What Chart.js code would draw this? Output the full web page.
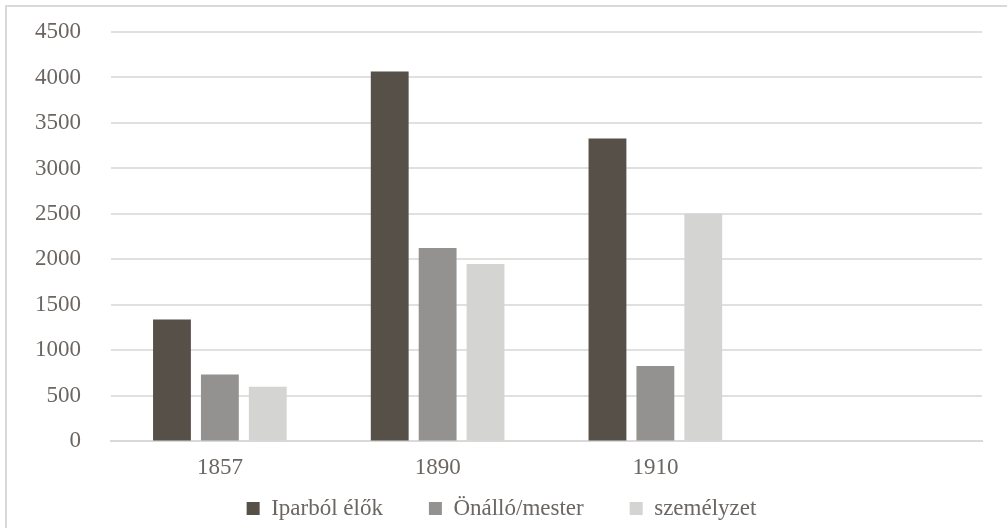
<!DOCTYPE html>
<html>
<head>
<meta charset="utf-8">
<script src="https://cdn.jsdelivr.net/npm/chart.js@4"></script>
<style>
    body { margin: 0; background: #fff; }
    #frame {
        position: absolute; left: 5px; top: 5px; width: 1002px; height: 523px;
        border-top: 2px solid #d9d9d9; border-left: 2px solid #d9d9d9;
        box-sizing: border-box;
    }
    #wrap { position: absolute; left: 0; top: 0; width: 1007px; height: 528px; }
</style>
</head>
<body>
<div id="frame"></div>
<div id="wrap"><canvas id="myChart"></canvas></div>
<script>
// categories (4th slot is empty in the original)
const years = ['1857', '1890', '1910', '']

// series values
const iparbolElok = [1340, 4065, 3330, null]
const onalloMester = [735, 2125, 830, null]
const szemelyzet = [600, 1950, 2505, null]

const seriesNames = ['Iparból élők', 'Önálló/mester', 'személyzet']
const seriesColors = ['#575049', '#939290', '#d4d4d3']

const textColor = '#6b6662'
const fontFamily = "'Liberation Serif', 'DejaVu Serif', serif"
const fontSize = 23

// legend: wide gaps between items but a short box vertically
const legendGap = 46
const legendFit = {
    id: 'legendFit',
    beforeLayout(chart) {
        const lg = chart.legend
        if (!lg || lg._patched) return
        const origFit = lg.fit
        const origDraw = lg.draw
        lg.fit = function () {
            origFit.call(this)
            this.height -= 46
        }
        lg.draw = function () {
            const { top, left, right } = this
            this.top = top - 44
            this.left = left + 8
            this.right = right + 8
            origDraw.call(this)
            Object.assign(this, { top, left, right })
        }
        lg._patched = true
    }
}

const data = {
    labels: years,
    datasets: [iparbolElok, onalloMester, szemelyzet].map((values, i) => ({
        label: seriesNames[i],
        data: values,
        backgroundColor: seriesColors[i],
        categoryPercentage: 0.66,
        barPercentage: 0.79
    }))
}

const config = {
    type: 'bar',
    data: data,
    plugins: [legendFit],
    options: {
        responsive: true,
        maintainAspectRatio: false,
        animation: false,
        layout: {
            padding: { left: 5, right: 25, top: 32, bottom: 0 }
        },
        plugins: {
            tooltip: { enabled: false },
            legend: {
                position: 'bottom',
                labels: {
                    boxWidth: 13,
                    boxHeight: 13,
                    padding: legendGap,
                    color: textColor,
                    font: { family: fontFamily, size: fontSize }
                }
            }
        },
        scales: {
            x: {
                grid: { display: false, drawTicks: false },
                border: { color: '#d9d9d9', width: 2 },
                ticks: {
                    padding: 13,
                    color: textColor,
                    font: { family: fontFamily, size: fontSize }
                }
            },
            y: {
                min: 0,
                max: 4500,
                // keep the wide label gap from padding the plot top/bottom
                afterFit: scale => {
                    scale.paddingTop = 14
                    scale.paddingBottom = 14
                },
                ticks: {
                    stepSize: 500,
                    padding: 30,
                    color: textColor,
                    font: { family: fontFamily, size: fontSize },
                    callback: value => String(value)
                },
                grid: { color: '#e0e0e0', lineWidth: 2, drawTicks: false },
                border: { display: false }
            }
        }
    }
}

new Chart(document.getElementById('myChart'), config)
</script>
</body>
</html>
